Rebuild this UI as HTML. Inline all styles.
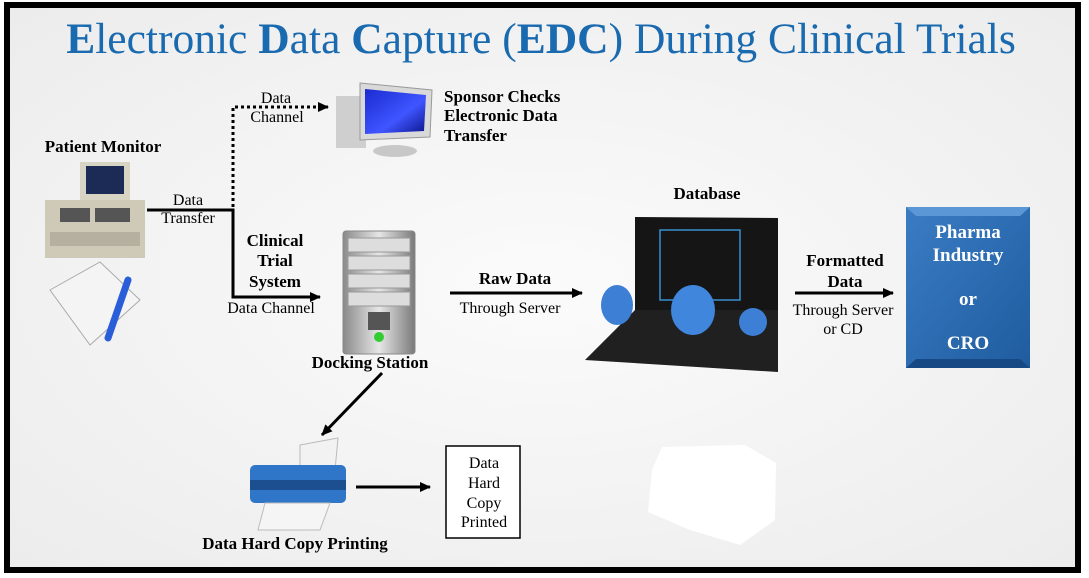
<!DOCTYPE html>
<html><head><meta charset="utf-8"><style>
html,body{margin:0;padding:0;background:#fff;}
svg{display:block;}
text{font-family:"Liberation Serif",serif;}
</style></head><body>
<svg width="1089" height="578" viewBox="0 0 1089 578" xmlns="http://www.w3.org/2000/svg">
<defs>
<radialGradient id="bg" cx="50%" cy="50%" r="70%"><stop offset="0" stop-color="#fbfbfb"/><stop offset="1" stop-color="#ececec"/></radialGradient>
<linearGradient id="blue" x1="0" y1="0" x2="1" y2="1"><stop offset="0" stop-color="#3a7cc4"/><stop offset="1" stop-color="#1f5c9f"/></linearGradient>
<linearGradient id="srv" x1="0" y1="0" x2="1" y2="0"><stop offset="0" stop-color="#8a8a8a"/><stop offset=".5" stop-color="#e6e6e6"/><stop offset="1" stop-color="#7a7a7a"/></linearGradient>
<linearGradient id="scr" x1="0" y1="0" x2="1" y2="1"><stop offset="0" stop-color="#1a2bd0"/><stop offset=".6" stop-color="#3f55ff"/><stop offset="1" stop-color="#0a148a"/></linearGradient>
<marker id="ah" markerWidth="11" markerHeight="10" refX="10" refY="5" orient="auto" markerUnits="userSpaceOnUse"><path d="M0,0 L11,5 L0,10 z" fill="#000"/></marker>
</defs>
<rect x="7" y="5" width="1071" height="565" fill="url(#bg)" stroke="#000" stroke-width="6"/>
<text x="541" y="53" text-anchor="middle" font-size="43.5" fill="#1a6ab0"><tspan font-weight="bold">E</tspan>lectronic <tspan font-weight="bold">D</tspan>ata <tspan font-weight="bold">C</tspan>apture (<tspan font-weight="bold">EDC</tspan>) During Clinical Trials</text>

<!-- patient monitor -->
<text x="103" y="152" text-anchor="middle" font-size="17" font-weight="bold">Patient Monitor</text>
<rect x="80" y="162" width="50" height="40" fill="#d8d4c4"/>
<rect x="86" y="166" width="38" height="28" fill="#1b2b55"/>
<rect x="45" y="200" width="100" height="58" fill="#cfcab8"/>
<rect x="60" y="208" width="30" height="14" fill="#555"/><rect x="95" y="208" width="35" height="14" fill="#555"/>
<rect x="50" y="232" width="90" height="14" fill="#b5b0a0"/>
<!-- paper & pen -->
<polygon points="50,290 100,262 140,300 90,345" fill="#f4f4f4" stroke="#aaa"/>
<line x1="128" y1="280" x2="108" y2="338" stroke="#2a5ed8" stroke-width="7" stroke-linecap="round"/>

<!-- connectors -->
<polyline points="147,210 233,210 233,297 320,297" fill="none" stroke="#000" stroke-width="3" marker-end="url(#ah)"/>
<polyline points="233,207 233,107 328,107" fill="none" stroke="#000" stroke-width="3" stroke-dasharray="3,3" marker-end="url(#ah)"/>
<text x="188" y="205" text-anchor="middle" font-size="16">Data</text>
<text x="188" y="223" text-anchor="middle" font-size="16">Transfer</text>
<text x="276" y="103" text-anchor="middle" font-size="16">Data</text>
<text x="277" y="122" text-anchor="middle" font-size="16">Channel</text>

<!-- computer -->
<rect x="336" y="96" width="30" height="52" fill="#cfcfcf"/>
<polygon points="360,83 432,90 430,137 360,140" fill="#d9d9d9" stroke="#999"/>
<polygon points="365,89 426,95 424,131 365,134" fill="url(#scr)"/>
<ellipse cx="395" cy="151" rx="22" ry="6" fill="#c8c8c8"/>
<text font-size="17" font-weight="bold"><tspan x="444" y="102">Sponsor Checks</tspan><tspan x="444" y="121">Electronic Data</tspan><tspan x="444" y="141">Transfer</tspan></text>

<text text-anchor="middle" font-size="17" font-weight="bold"><tspan x="275" y="246">Clinical</tspan><tspan x="275" y="266">Trial</tspan><tspan x="275" y="287">System</tspan></text>
<text x="271" y="313" text-anchor="middle" font-size="16">Data Channel</text>

<!-- server -->
<rect x="343" y="231" width="72" height="123" rx="3" fill="url(#srv)" stroke="#888"/>
<rect x="348" y="238" width="62" height="14" fill="#ddd" stroke="#999"/>
<rect x="348" y="256" width="62" height="14" fill="#ddd" stroke="#999"/>
<rect x="348" y="274" width="62" height="14" fill="#ddd" stroke="#999"/>
<rect x="348" y="292" width="62" height="14" fill="#ddd" stroke="#999"/>
<rect x="368" y="312" width="22" height="18" fill="#555"/>
<circle cx="379" cy="337" r="5" fill="#3c3"/>
<text x="370" y="368" text-anchor="middle" font-size="17" font-weight="bold">Docking  Station</text>

<line x1="450" y1="293" x2="582" y2="293" stroke="#000" stroke-width="3" marker-end="url(#ah)"/>
<text x="515" y="284" text-anchor="middle" font-size="17" font-weight="bold">Raw Data</text>
<text x="510" y="313" text-anchor="middle" font-size="16">Through Server</text>

<!-- laptop -->
<text x="707" y="199" text-anchor="middle" font-size="17" font-weight="bold">Database</text>
<polygon points="635,217 778,218 778,310 635,310" fill="#151515"/>
<polygon points="635,310 778,310 778,372 585,360" fill="#202020"/>
<rect x="660" y="230" width="80" height="70" fill="none" stroke="#3a8fd0" stroke-width="1.5"/>
<ellipse cx="617" cy="305" rx="16" ry="20" fill="#3c7fd4"/>
<ellipse cx="693" cy="310" rx="22" ry="25" fill="#3f86dc"/>
<ellipse cx="753" cy="322" rx="14" ry="14" fill="#3c7fd4"/>

<line x1="795" y1="293" x2="893" y2="293" stroke="#000" stroke-width="3" marker-end="url(#ah)"/>
<text text-anchor="middle" font-size="17" font-weight="bold"><tspan x="845" y="266">Formatted</tspan><tspan x="845" y="287">Data</tspan></text>
<text text-anchor="middle" font-size="16"><tspan x="843" y="315">Through Server</tspan><tspan x="843" y="334">or CD</tspan></text>

<!-- pharma box -->
<rect x="906" y="207" width="124" height="161" fill="url(#blue)"/>
<polygon points="906,207 1030,207 1020,216 916,216" fill="#5b97d6"/>
<polygon points="906,368 1030,368 1020,359 916,359" fill="#174a85"/>
<text text-anchor="middle" font-size="19" font-weight="bold" fill="#fff"><tspan x="968" y="238">Pharma</tspan><tspan x="968" y="261">Industry</tspan><tspan x="968" y="305">or</tspan><tspan x="968" y="349">CRO</tspan></text>

<!-- printer -->
<line x1="382" y1="373" x2="322" y2="435" stroke="#000" stroke-width="3" marker-end="url(#ah)"/>
<polygon points="300,445 338,438 335,470 300,475" fill="#f2f2f2" stroke="#bbb"/>
<rect x="250" y="465" width="96" height="38" rx="5" fill="#2f76c9"/>
<rect x="250" y="480" width="96" height="10" fill="#1c4f90"/>
<polygon points="265,503 330,503 320,530 258,530" fill="#f5f5f5" stroke="#bbb"/>
<text x="295" y="549" text-anchor="middle" font-size="17" font-weight="bold">Data Hard Copy Printing</text>
<line x1="356" y1="487" x2="430" y2="487" stroke="#000" stroke-width="3" marker-end="url(#ah)"/>
<rect x="446" y="446" width="74" height="92" fill="#fff" stroke="#000" stroke-width="1.5"/>
<text text-anchor="middle" font-size="16"><tspan x="484" y="468">Data</tspan><tspan x="484" y="488">Hard</tspan><tspan x="484" y="508">Copy</tspan><tspan x="484" y="527">Printed</tspan></text>

<polygon points="662,447 745,445 776,463 775,520 740,545 690,530 648,512 652,470" fill="#fff"/>
</svg>
</body></html>
